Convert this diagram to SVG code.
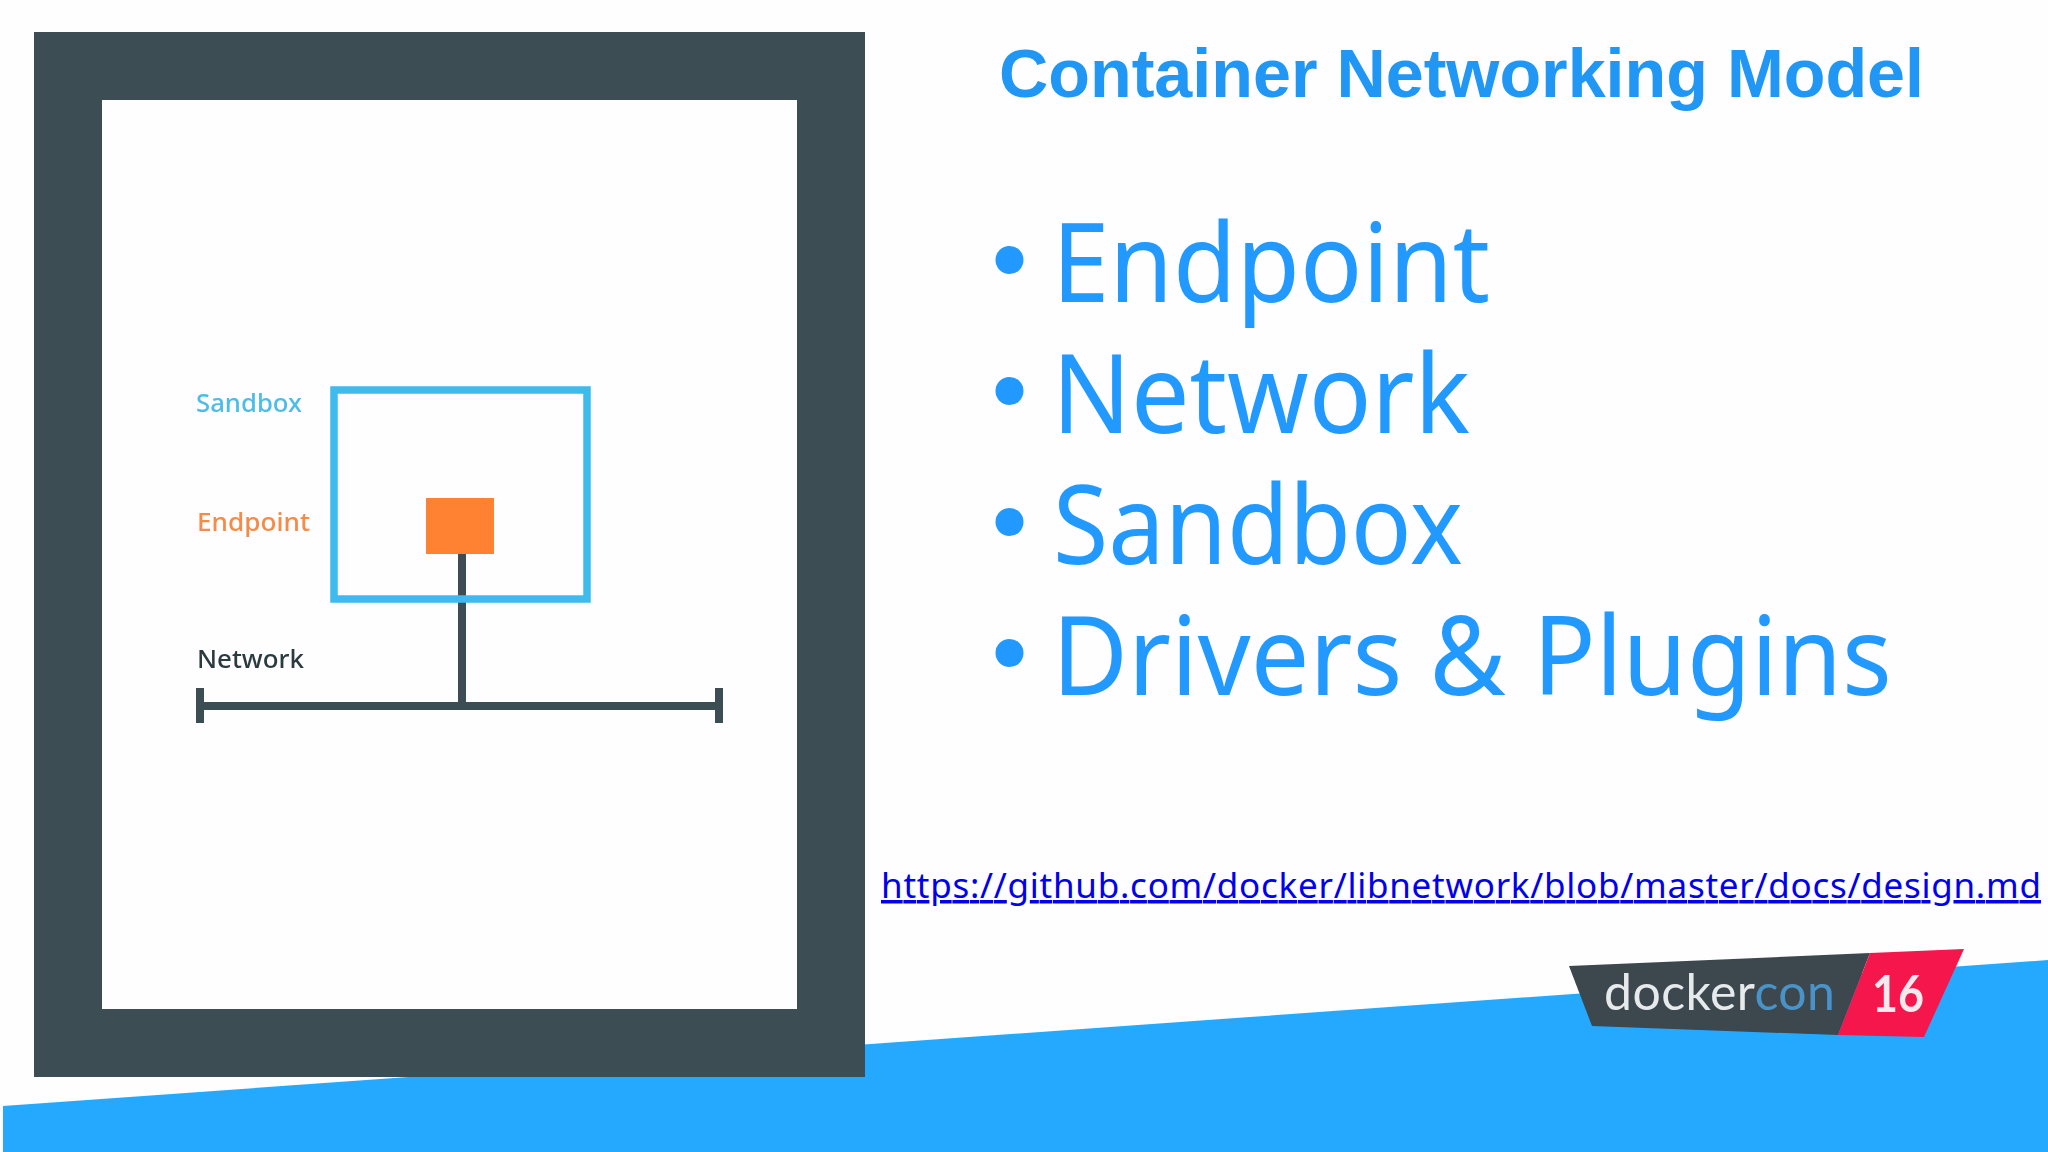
<svg xmlns="http://www.w3.org/2000/svg" width="2048" height="1152" viewBox="0 0 2048 1152">
<style>
.bl{font-family:"Noto Sans","DejaVu Sans",sans-serif;font-size:110px;fill:#2299ff}
.lb{font-family:"Noto Sans","DejaVu Sans",sans-serif;font-size:25px;font-weight:500;filter:url(#soft)}
.dot{fill:#2299ff}
.conn{stroke:#3c4d54;stroke-width:8;fill:none}
</style>
<defs><filter id="soft" x="-5%" y="-20%" width="110%" height="140%"><feGaussianBlur stdDeviation="0.7"/></filter></defs>
<rect id="background" width="2048" height="1152" fill="#fefdff"/>
<polygon id="footer-band" points="3,1106 2048,960 2048,1152 3,1152" fill="#25a9ff"/>
<rect id="frame" x="34" y="32" width="831" height="1045" fill="#3c4d54"/>
<rect id="panel" x="102" y="100" width="695" height="909" fill="#fefdff"/>
<g id="connectors">
<path class="conn" d="M462 554V706"/>
<path class="conn" d="M200 706H719"/>
<path class="conn" d="M200 688V723"/>
<path class="conn" d="M719 688V723"/>
</g>
<g id="sandbox">
<rect x="334" y="390" width="253" height="209" fill="none" stroke="#3dbbec" stroke-width="7.5"/>
<text class="lb" x="196" y="412" fill="#4bbde8" textLength="106" lengthAdjust="spacingAndGlyphs">Sandbox</text>
</g>
<g id="endpoint">
<rect x="426" y="498" width="68" height="56" fill="#ff8233"/>
<text class="lb" x="197" y="531" fill="#f58b45" textLength="113" lengthAdjust="spacingAndGlyphs">Endpoint</text>
</g>
<g id="network">
<text class="lb" x="197" y="668" fill="#2c3a40" textLength="107" lengthAdjust="spacingAndGlyphs">Network</text>
</g>
<text id="title" x="999" y="97" font-family="'Liberation Sans',Arial,sans-serif" font-weight="700" font-size="68" fill="#2097f5" textLength="925" lengthAdjust="spacingAndGlyphs">Container Networking Model</text>
<g id="bullets">
<circle class="dot" cx="1009.5" cy="260" r="14"/>
<text class="bl" x="1052" y="302" textLength="438" lengthAdjust="spacingAndGlyphs">Endpoint</text>
<circle class="dot" cx="1009.5" cy="391" r="14"/>
<text class="bl" x="1052" y="433" textLength="418" lengthAdjust="spacingAndGlyphs">Network</text>
<circle class="dot" cx="1009.5" cy="522" r="14"/>
<text class="bl" x="1053" y="564" textLength="410" lengthAdjust="spacingAndGlyphs">Sandbox</text>
<circle class="dot" cx="1009.5" cy="653" r="14"/>
<text class="bl" x="1052" y="695" textLength="840" lengthAdjust="spacingAndGlyphs">Drivers &amp; Plugins</text>
</g>
<text id="link" x="881" y="898" font-family="'Noto Sans','DejaVu Sans',sans-serif" font-size="35" fill="#0000ee" text-decoration="underline" textLength="1160">https://github.com/docker/libnetwork/blob/master/docs/design.md</text>
<g id="logo">
<polygon points="1569,966 1870,953 1838,1035 1592,1026" fill="#3c474e"/>
<polygon points="1870,953 1964,949 1924,1037 1838,1035" fill="#f5164c"/>
<text x="1604" y="1010" font-family="Lato,'Noto Sans',sans-serif" font-size="50" textLength="231" style="filter:url(#soft)"><tspan fill="#e6eaec">docker</tspan><tspan fill="#4a93c8">con</tspan></text>
<text x="1872" y="1012" font-family="Lato,'Noto Sans',sans-serif" font-weight="700" font-size="52" fill="#f6e9ee" textLength="52" lengthAdjust="spacingAndGlyphs" style="filter:url(#soft)">16</text>
</g>
</svg>
